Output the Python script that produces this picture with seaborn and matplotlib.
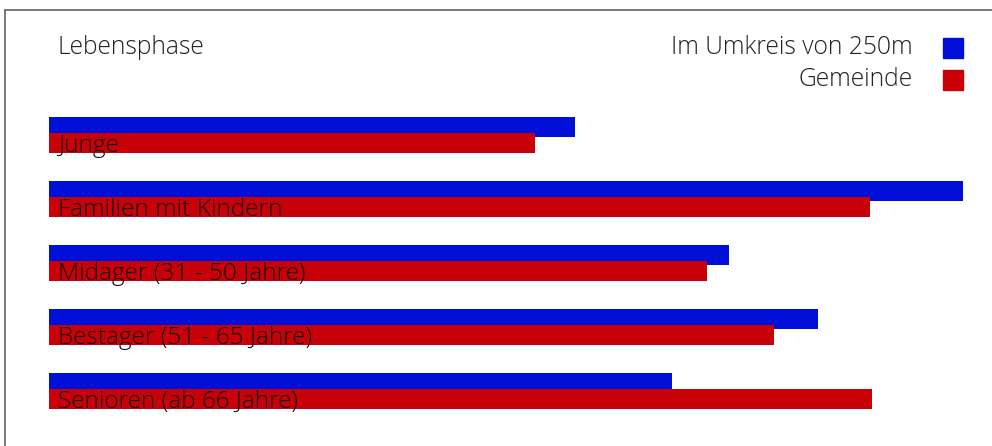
import numpy as np
import pandas as pd
import matplotlib
matplotlib.use("Agg")
import matplotlib.pyplot as plt
import matplotlib.patches as mpatches
from matplotlib.lines import Line2D
import seaborn as sns

# ==========================================
# Daten
# ==========================================
categories = ["Junge", "Familien mit Kindern", "Midager (31 - 50 Jahre)",
              "Bestager (51 - 65 Jahre)", "Senioren (ab 66 Jahre)"]
umkreis = [57.5, 100.0, 74.4, 84.1, 68.2]
gemeinde = [53.2, 89.8, 72.0, 79.3, 90.0]
series_names = ["Im Umkreis von 250m", "Gemeinde"]
title_text = "Lebensphase"

BLUE = "#0010d8"
RED = "#c80008"

df = pd.DataFrame({
    "Lebensphase": categories * 2,
    "Wert": umkreis + gemeinde,
    "Serie": [series_names[0]] * len(categories) + [series_names[1]] * len(categories),
})

sns.set_theme(style="white")
plt.rcParams['font.family'] = ['Open Sans', 'DejaVu Sans']

W, H = 992, 446
fig = plt.figure(figsize=(W / 100, H / 100), dpi=100)
ax = fig.add_axes([49 / W, 1 - 423 / H, (963 - 49) / W, 320 / H])

sns.barplot(data=df, y="Lebensphase", x="Wert", hue="Serie", orient="h",
            palette=[BLUE, RED], width=0.5, dodge=True, saturation=1,
            legend=False, ax=ax)

# Balken etwas dicker -> leichte Überlappung wie im Original
new_h = 20 / 64
for p in ax.patches:
    cy = p.get_y() + p.get_height() / 2
    p.set_height(new_h)
    p.set_y(cy - new_h / 2)
    p.set_linewidth(0)

ax.set_xlim(0, max(umkreis))
ax.set_ylim(len(categories) - 0.5, -0.5)
ax.set_axis_off()

# Kategorienamen auf den Balken
for i, name in enumerate(categories):
    ax.annotate(name, xy=(0, i + 0.27), xytext=(9 * 0.72, 0), textcoords="offset points",
                ha="left", va="baseline", fontsize=17.6, fontweight="light", color="#111111")

# Titel und Legende
fig.text(57 / W, 1 - 48 / H, title_text, ha="left", va="center",
         fontsize=17.7, fontweight="light", color="#222222")
for k, (name, col) in enumerate(zip(series_names, [BLUE, RED])):
    yc = 48 + k * 32
    fig.text(913 / W, 1 - yc / H, name, ha="right", va="center",
             fontsize=17.7, fontweight="light", color="#222222")
    fig.patches.append(mpatches.Rectangle((943 / W, 1 - (yc + 10) / H), 20 / W, 20 / H,
                                          transform=fig.transFigure, color=col, figure=fig))

# Rahmen (oben und links)
fig.add_artist(Line2D([5 / W, 1], [1 - 10 / H, 1 - 10 / H], transform=fig.transFigure,
                      color="#5a6666", lw=1.2))
fig.add_artist(Line2D([5 / W, 5 / W], [0, 1 - 10 / H], transform=fig.transFigure,
                      color="#5a6666", lw=1.2))

fig.savefig("out.png", dpi=100)
